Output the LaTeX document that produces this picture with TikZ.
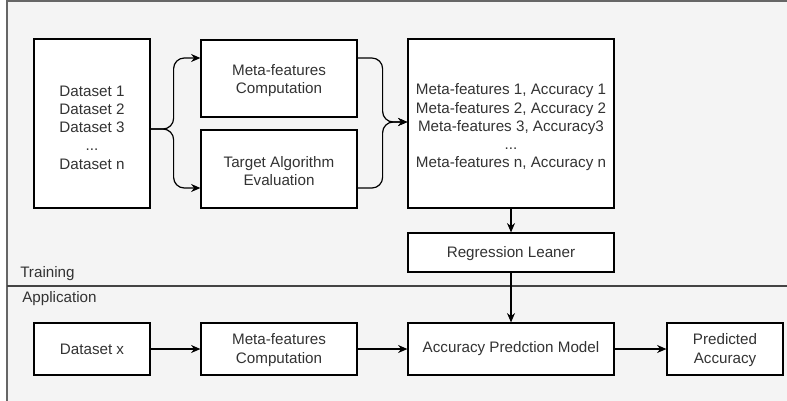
\documentclass[tikz,border=0pt]{standalone}
\usepackage{fontspec}
\setmainfont{Liberation Sans}
\usetikzlibrary{arrows.meta,calc}
\definecolor{bg}{HTML}{F4F4F4}
\definecolor{txt}{HTML}{333333}
\definecolor{framec}{HTML}{666666}
\definecolor{divc}{HTML}{444444}
\begin{document}
\begin{tikzpicture}[x=0.75pt,y=-0.75pt,
  box/.style={draw=black,fill=white,line width=0.9pt,inner sep=0pt,align=center,
    text=txt,font=\fontsize{11.4}{13.5}\selectfont},
  txtn/.style={inner sep=0pt,align=center,text=txt,font=\fontsize{11.4}{13.7}\selectfont},
  sz/.style 2 args={minimum width=#1*0.75pt,minimum height=#2*0.75pt},
  lbl/.style={inner sep=0pt,text=txt,font=\fontsize{11.4}{13.5}\selectfont,anchor=west},
  conn/.style={draw=black,line width=0.9pt,-{Stealth[length=7pt,width=6pt]}},
  fork/.style={conn,rounded corners=8pt}]
\useasboundingbox (0,0) rectangle (787,400);
\fill[white] (0,0) rectangle (787,400);
\fill[bg] (7,0) rectangle (800,410);
\draw[framec,line width=1.5pt] (7,420) -- (7,0.9) -- (800,0.9);
\draw[divc,line width=0.9pt] (7,286) -- (800,286);

\node[lbl] (tr) at (20,273.5) {Training};
\node[lbl] (ap) at (22,299) {Application};

% training
\node[box,sz={116}{169}] (ds) at (92,123.5) {};
\node[txtn] (dst) at ($(ds.center)+(0,4)$) {Dataset 1\\Dataset 2\\Dataset 3\\...\\Dataset n};
\node[box,sz={156}{77}] (mf) at (279,78.5) {};
\node[txtn] (mft) at ($(mf.center)+(0,2)$) {Meta-features\\Computation};
\node[box,sz={156}{78}] (ta) at (279,169) {};
\node[txtn] (tat) at ($(ta.center)+(0,2)$) {Target Algorithm\\Evaluation};
\node[box,sz={206}{169}] (ml) at (511,123.5) {};
\node[txtn] (mlt) at ($(ml.center)+(0,4)$) {Meta-features 1, Accuracy 1\\Meta-features 2, Accuracy 2\\Meta-features 3, Accuracy3\\...\\Meta-features n, Accuracy n};
\node[box,sz={206}{39}] (rl) at (511,252.5) {};
\node[txtn] (rlt) at ($(rl.center)+(0,1)$) {Regression Leaner};

% application
\node[box,sz={116}{52}] (dx) at (92,349) {Dataset x};
\node[box,sz={156}{52}] (mf2) at (279,349) {};
\node[txtn] (mf2t) at ($(mf2.center)+(0,1)$) {Meta-features\\Computation};
\node[box,sz={206}{52}] (am) at (511,349) {Accuracy Predction Model};
\node[box,sz={116}{52}] (pa) at (725,349) {};
\node[txtn] (pat) at ($(pa.center)+(0,1)$) {Predicted\\Accuracy};

% connectors
\draw[fork] ($(ds.east)+(0,5.5)$) -- ++(23,0) |- ($(mf.west)+(0,-20.5)$);
\draw[fork] ($(ds.east)+(0,5.5)$) -- ++(23,0) |- ($(ta.west)+(0,19)$);
\draw[fork] ($(mf.east)+(0,-20.5)$) -- ++(25,0) |- ($(ml.west)+(0,-1.5)$);
\draw[fork] ($(ta.east)+(0,19)$) -- ++(25,0) |- ($(ml.west)+(0,-1.5)$);
\draw[conn] (ml.south) -- (rl.north);
\draw[conn] (rl.south) -- (am.north);
\draw[conn] (dx.east) -- (mf2.west);
\draw[conn] (mf2.east) -- (am.west);
\draw[conn] (am.east) -- (pa.west);
\end{tikzpicture}
\end{document}
